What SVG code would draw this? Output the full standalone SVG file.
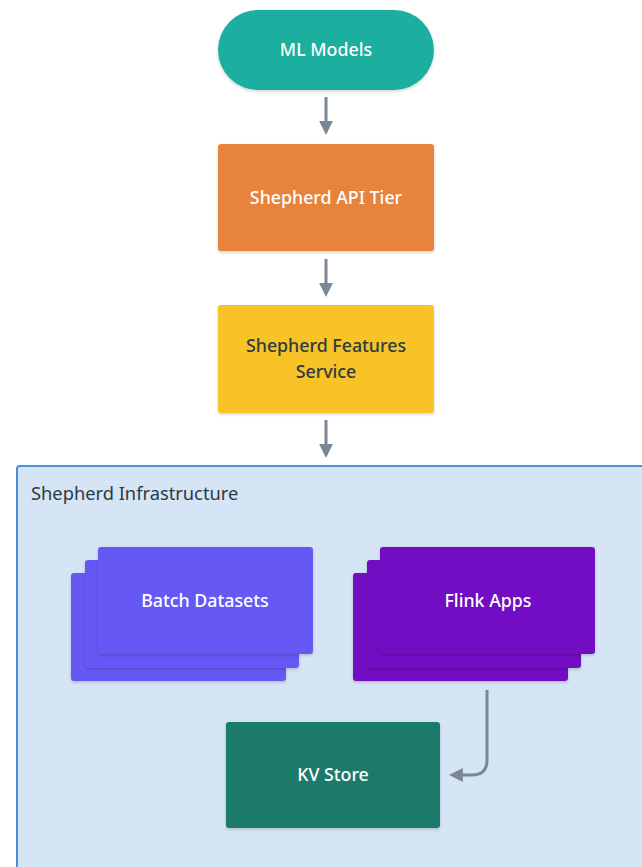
<svg xmlns="http://www.w3.org/2000/svg" width="642" height="867" viewBox="0 0 642 867">
  <style>
    .lbl { font-family: "Noto Sans", "Liberation Sans", sans-serif; font-size: 17.8px; font-weight: 500; text-anchor: middle; }
    .light { fill: #ffffff; }
    .dark { fill: #2d3a42; }
    .edge { fill: none; stroke: #7a8795; stroke-width: 3; }
  </style>
  <defs>
    <filter id="shadow" x="-10%" y="-10%" width="120%" height="130%">
      <feDropShadow dx="0" dy="1.5" stdDeviation="1.5" flood-color="#000" flood-opacity="0.18"/>
    </filter>
    <marker id="arrow" viewBox="0 0 10 10" refX="5" refY="5" markerWidth="4.6" markerHeight="4.6" orient="auto" markerUnits="strokeWidth">
      <path d="M0,0 L10,5 L0,10 z" fill="#7a8795"/>
    </marker>
  </defs>

  <rect width="642" height="867" fill="#ffffff"/>

  <g id="shepherd-infrastructure">
    <rect x="17" y="466" width="640" height="420" rx="3" fill="#d5e5f5" stroke="#4a90d9" stroke-width="2"/>
    <text x="31" y="500" font-family="'Noto Sans', 'Liberation Sans', sans-serif" font-size="18.3" fill="#2d3a42">Shepherd Infrastructure</text>
  </g>

  <g id="ml-models">
    <rect x="218" y="10" width="216" height="80" rx="40" fill="#1bae9f" filter="url(#shadow)"/>
    <text class="lbl light" x="326" y="56">ML Models</text>
  </g>

  <g id="shepherd-api-tier">
    <rect x="218" y="144" width="216" height="107" rx="3" fill="#e8833a" filter="url(#shadow)"/>
    <text class="lbl light" x="326" y="204">Shepherd API Tier</text>
  </g>

  <g id="shepherd-features-service">
    <rect x="218" y="305" width="216" height="108" rx="3" fill="#f7c325" filter="url(#shadow)"/>
    <text class="lbl dark" x="326" y="352">Shepherd Features</text>
    <text class="lbl dark" x="326" y="378">Service</text>
  </g>

  <g id="batch-datasets">
    <rect x="71" y="573" width="215" height="108" rx="3" fill="#6558f5" filter="url(#shadow)"/>
    <rect x="85" y="560" width="214" height="108" rx="3" fill="#6558f5" filter="url(#shadow)"/>
    <rect x="98" y="547" width="215" height="107" rx="3" fill="#6558f5" filter="url(#shadow)"/>
    <text class="lbl light" x="205" y="607">Batch Datasets</text>
  </g>

  <g id="flink-apps">
    <rect x="353" y="573" width="215" height="108" rx="3" fill="#7210c4" filter="url(#shadow)"/>
    <rect x="367" y="560" width="214" height="108" rx="3" fill="#7210c4" filter="url(#shadow)"/>
    <rect x="380" y="547" width="215" height="107" rx="3" fill="#7210c4" filter="url(#shadow)"/>
    <text class="lbl light" x="488" y="607">Flink Apps</text>
  </g>

  <g id="kv-store">
    <rect x="226" y="722" width="214" height="106" rx="3" fill="#1f7a6a" filter="url(#shadow)"/>
    <text class="lbl light" x="333" y="781">KV Store</text>
  </g>

  <g id="connectors">
    <path class="edge" d="M326,97 V128" marker-end="url(#arrow)"/>
    <path class="edge" d="M326,259 V290" marker-end="url(#arrow)"/>
    <path class="edge" d="M326,420 V451" marker-end="url(#arrow)"/>
    <path class="edge" d="M487,690 V760 Q487,775 472,775 H456" marker-end="url(#arrow)"/>
  </g>
</svg>
